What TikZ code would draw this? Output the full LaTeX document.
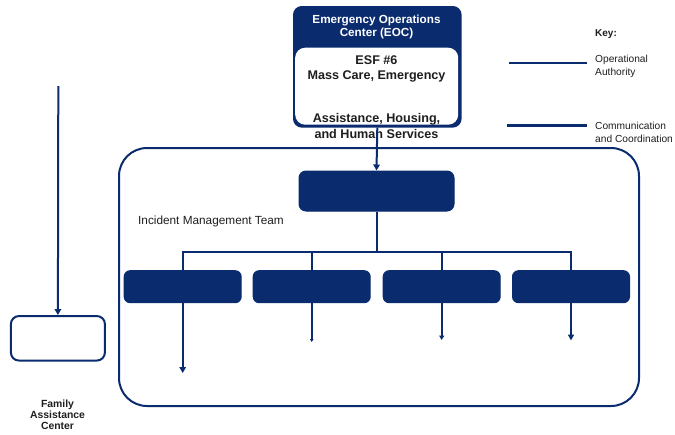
\documentclass[tikz,border=0pt]{standalone}
\usepackage{fontspec}
\setmainfont{Liberation Sans}
\usetikzlibrary{arrows.meta}
\definecolor{navy}{RGB}{10,43,110}
\definecolor{txt}{RGB}{30,30,30}
\begin{document}
\begin{tikzpicture}[x=1pt,y=-1pt,
  navybox/.style={draw=navy,fill=navy,line width=1pt,rounded corners=7pt,inner sep=0pt},
  wbox/.style={draw=navy,fill=white,line width=2pt,rounded corners=8pt,inner sep=0pt},
  conn/.style={draw=navy,line width=2pt},
  arr/.style={conn,-{Triangle[length=6pt,width=6.5pt]}},
  lbl/.style={inner sep=0pt,text=txt}
]
\useasboundingbox (0,0) rectangle (675,434);

% EOC box
\node[navybox,draw=navy,line width=1.6pt,rounded corners=8pt,minimum width=167pt,minimum height=120pt,anchor=north west] (eoc) at (293,6) {};
\node[fill=white,rounded corners=10pt,inner sep=0pt,minimum width=163pt,minimum height=77pt,anchor=north west] (eocin) at (295,47.5) {};
\node[lbl,text=white,align=center,font=\bfseries\fontsize{11.7}{13}\selectfont] (eoct) at (376.5,27.2) {Emergency Operations\\Center (EOC)};
\node[lbl,align=center,font=\bfseries\fontsize{12.6}{15}\selectfont] (esf) at (376.5,69.2) {ESF \#6\\Mass Care, Emergency};
\node[lbl,align=center,font=\bfseries\fontsize{12.6}{15.7}\selectfont] (esf2) at (376.5,126.2) {Assistance, Housing,\\and Human Services};

% Incident Management Team container
\node[draw=navy,line width=2pt,rounded corners=28pt,minimum width=520pt,minimum height=258pt,anchor=north west,inner sep=0pt] (imt) at (118,147) {};
\node[lbl,anchor=west,font=\fontsize{11.8}{14}\selectfont] (imtt) at (138,221) {Incident Management Team};

% top box
\node[navybox,minimum width=155pt,minimum height=40pt] (ic) at (376.5,191) {};

% four boxes
\node[navybox,rounded corners=6pt,minimum width=117pt,minimum height=32pt] (b1) at (182.7,286.7) {};
\node[navybox,rounded corners=6pt,minimum width=117pt,minimum height=32pt] (b2) at (311.7,286.7) {};
\node[navybox,rounded corners=6pt,minimum width=117pt,minimum height=32pt] (b3) at (441.7,286.7) {};
\node[navybox,rounded corners=6pt,minimum width=117pt,minimum height=32pt] (b4) at (571,286.7) {};

% connectors
\draw[arr] (eoc.south) -- (ic.north);
\coordinate (bus) at (376.5,251.5);
\draw[conn] (ic.south) -- (bus);
\draw[conn] (b1.north) |- (bus) -| (b4.north);
\draw[conn] (b2.north) -- (b2.north |- bus);
\draw[conn] (b3.north) -- (b3.north |- bus);
\coordinate (e1) at (182.7,373);
\coordinate (e2) at (311.7,342);
\coordinate (e3) at (441.7,340);
\coordinate (e4) at (571,340.5);
\draw[arr] (b1.south) -- (e1);
\draw[conn,-{Triangle[length=3pt,width=3.5pt]}] (b2.south) -- (e2);
\draw[conn,-{Triangle[length=4.5pt,width=5pt]}] (b3.south) -- (e3);
\draw[conn,-{Triangle[length=6pt,width=6pt]}] (b4.south) -- (e4);

% Family Assistance Center
\node[wbox,minimum width=94pt,minimum height=44.5pt] (fac) at (57.9,338.3) {};
\coordinate (facin) at (58.3,86);
\draw[arr] (facin) -- (fac.north);
\node[lbl,align=center,font=\bfseries\fontsize{10.4}{11.2}\selectfont] (fact) at (57.5,414.5) {Family\\Assistance\\Center};

% Key
\node[lbl,anchor=west,font=\bfseries\fontsize{10}{12}\selectfont] (key) at (595,34.3) {Key:};
\coordinate (k1a) at (509,62.7);
\coordinate (k1b) at (586.7,62.7);
\draw[navy,line width=2pt] (k1a) -- (k1b);
\node[lbl,anchor=west,align=left,font=\fontsize{10.2}{13}\selectfont] (k1t) at (595,66) {Operational\\Authority};
\coordinate (k2a) at (507,125.7);
\coordinate (k2b) at (586.7,125.7);
\draw[navy,line width=3pt] (k2a) -- (k2b);
\node[lbl,anchor=west,align=left,font=\fontsize{10.2}{13}\selectfont] (k2t) at (595,132.5) {Communication\\and Coordination};
\end{tikzpicture}
\end{document}
